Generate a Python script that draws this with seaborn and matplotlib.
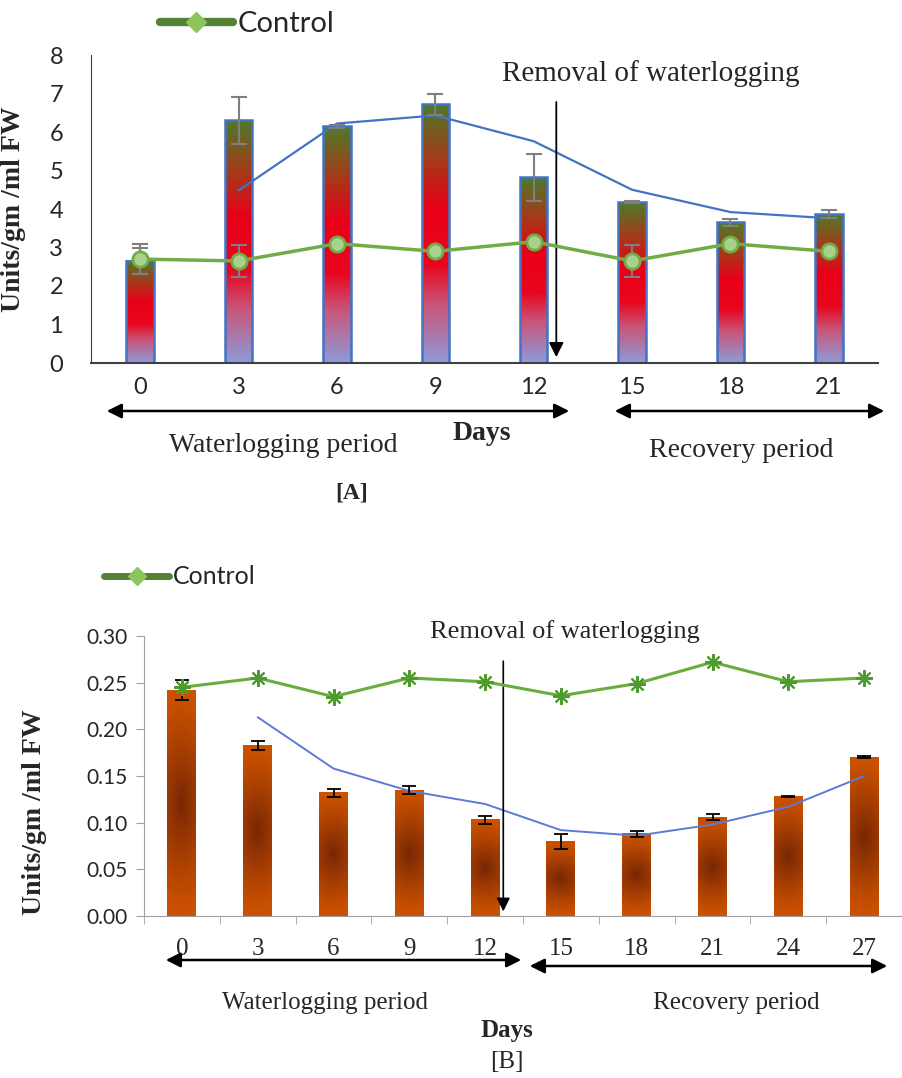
import numpy as np
import matplotlib
matplotlib.use("Agg")
import matplotlib.pyplot as plt
import seaborn as sns
from matplotlib.colors import LinearSegmentedColormap
from matplotlib.lines import Line2D

# ---- panel A data ----
days_a = ["0", "3", "6", "9", "12", "15", "18", "21"]
treat_a = [2.65, 6.30, 6.15, 6.72, 4.82, 4.18, 3.65, 3.87]
treat_a_err = [0.35, 0.60, 0.04, 0.28, 0.62, 0.03, 0.10, 0.10]
control_a = [2.70, 2.65, 3.10, 2.90, 3.15, 2.65, 3.10, 2.90]
control_a_err = [0.40, 0.42, 0.0, 0.0, 0.0, 0.42, 0.0, 0.0]
trend_a = [np.nan, 4.48, 6.22, 6.43, 5.76, 4.50, 3.92, 3.76]

# ---- panel B data ----
days_b = ["0", "3", "6", "9", "12", "15", "18", "21", "24", "27"]
treat_b = [0.242, 0.183, 0.132, 0.135, 0.103, 0.080, 0.088, 0.106, 0.128, 0.170]
treat_b_err = [0.011, 0.005, 0.004, 0.004, 0.004, 0.008, 0.003, 0.003, 0.001, 0.001]
control_b = [0.245, 0.255, 0.235, 0.255, 0.251, 0.236, 0.249, 0.272, 0.251, 0.255]
trend_b = [np.nan, 0.213, 0.158, 0.134, 0.120, 0.092, 0.086, 0.098, 0.117, 0.150]

W, H = 902, 1078
SERIF = "Liberation Serif"
SANS = "Lato"

sns.set_style("white")
plt.rcParams["font.family"] = [SANS, "DejaVu Sans"]


def fx(x):
    return x / W


def fy(y):
    return 1 - y / H


def shade_bars(ax, kind):
    """Replace the flat bar fills with gradient images."""
    if kind == "a":
        cmap = LinearSegmentedColormap.from_list(
            "ga", [(0.0, "#8d9bd8"), (0.22, "#c8567a"), (0.38, "#e8061e"),
                   (0.6, "#e80018"), (0.78, "#a83818"), (1.0, "#4e7a2a")])
        grad = np.linspace(0, 1, 256).reshape(-1, 1)
        img = cmap(grad)
    else:
        orange = np.array([0.80, 0.32, 0.0])
        dark = np.array([0.47, 0.15, 0.02])
        v = np.linspace(0, 1, 200).reshape(-1, 1)
        u = np.linspace(0, 1, 40).reshape(1, -1)
        d = np.sqrt(((v - 0.5) / 0.5) ** 2 + 0.12 * ((u - 0.5) / 0.5) ** 2)
        t = np.clip(1 - d, 0, 1) ** 1.2
        img = orange * (1 - t[..., None]) + dark * t[..., None]
    for p in ax.patches:
        x0, w, h = p.get_x(), p.get_width(), p.get_height()
        p.set_facecolor("none")
        ax.imshow(img, extent=[x0, x0 + w, 0, h], origin="lower",
                  aspect="auto", zorder=1, interpolation="bilinear")


fig = plt.figure(figsize=(W / 100, H / 100), dpi=100)

# ================= Panel A =================
ax1 = fig.add_axes([fx(91), fy(363), (878 - 91) / W, (363 - 55) / H])
sns.barplot(x=days_a, y=treat_a, order=days_a, width=0.28, color="#4472c4",
            edgecolor="#4472c4", linewidth=1.8, ax=ax1, zorder=2)
shade_bars(ax1, "a")
ax1.errorbar(np.arange(len(days_a)), treat_a, yerr=treat_a_err, fmt="none",
             ecolor="#7f7f7f", elinewidth=1.5, capsize=6, capthick=1.5, zorder=4)
ax1.errorbar(np.arange(len(days_a)), control_a, yerr=control_a_err, fmt="none",
             ecolor="#7f7f7f", elinewidth=1.5, capsize=6, capthick=1.5, zorder=4)
sns.lineplot(x=np.arange(len(days_a)), y=trend_a, color="#4472c4", lw=1.6,
             ax=ax1, zorder=3)
sns.pointplot(x=days_a, y=control_a, order=days_a, color="#70ad47",
              errorbar=None, markers="o", linewidth=2.5, markersize=11,
              markerfacecolor="#a9d18e", markeredgecolor="#70ad47",
              markeredgewidth=2, ax=ax1)
for ln in ax1.lines[-1:]:
    ln.set_zorder(5)

ax1.set_xlim(-0.5, len(days_a) - 0.5)
ax1.set_ylim(0, 8)
ax1.set_yticks(range(0, 9))
ax1.tick_params(axis="x", length=0, pad=10, labelsize=17)
ax1.tick_params(axis="y", length=0, pad=20, labelsize=17)
ax1.set_xlabel("")
ax1.set_ylabel("Units/gm /ml FW", fontsize=20, fontweight="bold", family=SERIF)
ax1.yaxis.set_label_coords(-0.083, 0.5)
for s in ["top", "right"]:
    ax1.spines[s].set_visible(False)
ax1.spines["left"].set_color("#404040")
ax1.spines["bottom"].set_color("#404040")
ax1.spines["bottom"].set_linewidth(1.5)

ax1.annotate("", xy=(4.23, 0.08), xytext=(4.23, 6.85),
             arrowprops=dict(arrowstyle="-|>", color="black", lw=1.3,
                             mutation_scale=22))
fig.text(fx(651), fy(74), "Removal of waterlogging", family=SERIF,
         fontsize=21, ha="center", va="center")

leg_a = Line2D([], [], color="#548235", lw=6, marker="D", markersize=10,
               markerfacecolor="#8dc55a", markeredgecolor="#8dc55a",
               solid_capstyle="round")
fig.legend(handles=[leg_a], labels=["Control"], loc="center left",
           bbox_to_anchor=(fx(160), fy(24)), frameon=False, fontsize=21,
           handlelength=2.5, handletextpad=0.15, borderpad=0, borderaxespad=0)

# period arrows & labels A
arrow_kw = dict(arrowstyle="<|-|>", color="black", lw=1.8, mutation_scale=22)
fig.add_artist(matplotlib.patches.FancyArrowPatch(
    (fx(104), fy(411)), (fx(572), fy(411)), transform=fig.transFigure, **arrow_kw))
fig.add_artist(matplotlib.patches.FancyArrowPatch(
    (fx(612), fy(411)), (fx(887), fy(411)), transform=fig.transFigure, **arrow_kw))
fig.text(fx(283), fy(446), "Waterlogging period", family=SERIF, fontsize=20,
         ha="center", va="center")
fig.text(fx(741), fy(450), "Recovery period", family=SERIF, fontsize=20,
         ha="center", va="center")
fig.text(fx(482), fy(433), "Days", family=SERIF, fontsize=20,
         fontweight="bold", ha="center", va="center")
fig.text(fx(352), fy(493), "[A]", family=SERIF, fontsize=17,
         fontweight="bold", ha="center", va="center")

# ================= Panel B =================
ax2 = fig.add_axes([fx(144), fy(916), (W - 144) / W, (916 - 636) / H])
sns.barplot(x=days_b, y=treat_b, order=days_b, width=0.38, color="#c55a11",
            linewidth=0, ax=ax2, zorder=2)
shade_bars(ax2, "b")
ax2.errorbar(np.arange(len(days_b)), treat_b, yerr=treat_b_err, fmt="none",
             ecolor="black", elinewidth=1.3, capsize=5, capthick=1.3, zorder=4)
sns.lineplot(x=np.arange(len(days_b)), y=trend_b, color="#5b7bd5", lw=1.4,
             ax=ax2, zorder=3)
sns.pointplot(x=days_b, y=control_b, order=days_b, color="#6aad3f",
              errorbar=None, markers=(8, 2, 0), linewidth=2.2, markersize=12,
              markerfacecolor="#4e9a2e", markeredgecolor="#4e9a2e",
              markeredgewidth=1.5, ax=ax2)
for ln in ax2.lines[-1:]:
    ln.set_zorder(5)

ax2.set_xlim(-0.5, len(days_b) - 0.6)
ax2.set_ylim(0, 0.30)
ax2.set_yticks(np.arange(0, 0.31, 0.05))
ax2.yaxis.set_major_formatter(matplotlib.ticker.FormatStrFormatter("%.2f"))
ax2.set_xticks(np.arange(-0.5, len(days_b), 1.0), minor=True)
ax2.tick_params(axis="x", which="major", length=0, pad=16, labelsize=18)
ax2.tick_params(axis="x", which="minor", bottom=True, length=6, color="#a0a0a0")
ax2.tick_params(axis="y", left=True, length=6, color="#a0a0a0", pad=6,
                labelsize=15)
for lbl in ax2.get_xticklabels():
    lbl.set_family(SERIF)
ax2.set_xlabel("")
ax2.set_ylabel("Units/gm /ml FW", fontsize=20, fontweight="bold", family=SERIF)
ax2.yaxis.set_label_coords(-0.128, 0.37)
for s in ["top", "right"]:
    ax2.spines[s].set_visible(False)
ax2.spines["left"].set_color("#a0a0a0")
ax2.spines["bottom"].set_color("#a0a0a0")

ax2.annotate("", xy=(4.24, 0.002), xytext=(4.24, 0.276),
             arrowprops=dict(arrowstyle="-|>", color="black", lw=1.2,
                             mutation_scale=20), annotation_clip=False)
fig.text(fx(565), fy(632), "Removal of waterlogging", family=SERIF,
         fontsize=19, ha="center", va="center")

leg_b = Line2D([], [], color="#548235", lw=5, marker="D", markersize=9,
               markerfacecolor="#8dc55a", markeredgecolor="#8dc55a",
               solid_capstyle="round")
fig.legend(handles=[leg_b], labels=["Control"], loc="center left",
           bbox_to_anchor=(fx(104), fy(577)), frameon=False, fontsize=18,
           handlelength=2.6, handletextpad=0.15, borderpad=0, borderaxespad=0)

fig.add_artist(matplotlib.patches.FancyArrowPatch(
    (fx(163), fy(960)), (fx(524), fy(960)), transform=fig.transFigure, **arrow_kw))
fig.add_artist(matplotlib.patches.FancyArrowPatch(
    (fx(527), fy(966)), (fx(890), fy(966)), transform=fig.transFigure, **arrow_kw))
fig.text(fx(325), fy(1003), "Waterlogging period", family=SERIF, fontsize=18,
         ha="center", va="center")
fig.text(fx(736), fy(1003), "Recovery period", family=SERIF, fontsize=18,
         ha="center", va="center")
fig.text(fx(507), fy(1030), "Days", family=SERIF, fontsize=18,
         fontweight="bold", ha="center", va="center")
fig.text(fx(507), fy(1062), "[B]", family=SERIF, fontsize=18,
         ha="center", va="center")

fig.savefig("out.png", dpi=100)
